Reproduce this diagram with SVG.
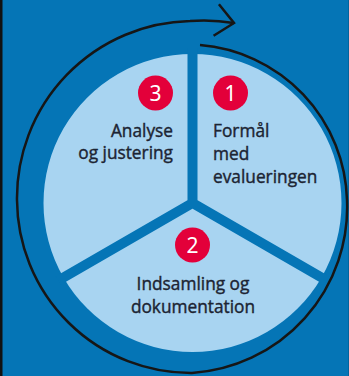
<svg xmlns="http://www.w3.org/2000/svg" width="349" height="376" viewBox="0 0 349 376">
  <style>
    .sector { fill: #a8d4f1; }
    .divider { stroke: #0575b6; stroke-width: 10; fill: none; }
    .badge { fill: #e3003a; }
    .num { fill: #ffffff; font-family: "Noto Sans", "Liberation Sans", sans-serif; font-size: 21px; text-anchor: middle; }
    .label { fill: #1c2433; stroke: #1c2433; stroke-width: 0.4; font-family: "Open Sans", "Noto Sans", sans-serif; font-size: 17.3px; }
    .cycle { stroke: #161616; stroke-width: 2.5; fill: none; }
  </style>
  <defs>
    <marker id="head" markerUnits="userSpaceOnUse" markerWidth="40" markerHeight="40" refX="0" refY="0" viewBox="-20 -20 40 40" orient="auto" overflow="visible">
      <path d="M -18 -16 L 0 0 L -18 16" stroke="#161616" stroke-width="2.5" fill="none"/>
    </marker>
  </defs>
  <rect x="0" y="0" width="349" height="376" fill="#0575b6"/>
  <rect x="0" y="0" width="2.5" height="376" fill="#111111"/>
  <rect x="348" y="0" width="1" height="376" fill="#04649c"/>

  <g id="sector-1">
    <path class="sector" d="M 192.5 203 L 192.5 54 A 149 149 0 0 1 321.54 277.5 Z"/>
    <circle class="badge" cx="230.5" cy="93" r="17.5"/>
    <text class="num" x="230.5" y="100.5">1</text>
    <text class="label" x="213" y="137">Formål</text>
    <text class="label" x="213" y="160">med</text>
    <text class="label" x="213" y="183">evalueringen</text>
  </g>
  <g id="sector-2">
    <path class="sector" d="M 192.5 203 L 321.54 277.5 A 149 149 0 0 1 63.46 277.5 Z"/>
    <circle class="badge" cx="192.5" cy="245" r="17.5"/>
    <text class="num" x="192.5" y="252.5">2</text>
    <text class="label" x="193" y="290" text-anchor="middle">Indsamling og</text>
    <text class="label" x="193" y="313" text-anchor="middle">dokumentation</text>
  </g>
  <g id="sector-3">
    <path class="sector" d="M 192.5 203 L 63.46 277.5 A 149 149 0 0 1 192.5 54 Z"/>
    <circle class="badge" cx="155.5" cy="93" r="17.5"/>
    <text class="num" x="155.5" y="100.5">3</text>
    <text class="label" x="173" y="137" text-anchor="end">Analyse</text>
    <text class="label" x="173" y="159" text-anchor="end">og justering</text>
  </g>

  <g id="connectors">
    <path class="divider" d="M 192.5 203 L 192.5 48 M 192.5 203 L 326.7 280.5 M 192.5 203 L 58.3 280.5"/>
    <path class="cycle" marker-end="url(#head)" d="M 200 45 A 160 160 0 0 1 347 200 A 166 166 0 0 1 192 373 A 174 174 0 0 1 17 200 A 177 177 0 0 1 190 21 A 180 180 0 0 1 234 23"/>
  </g>
</svg>
